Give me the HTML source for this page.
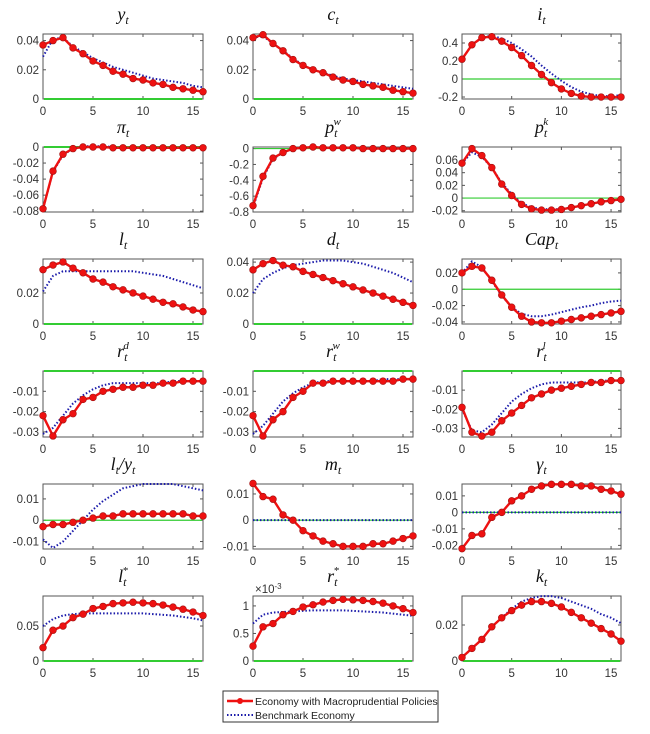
<!DOCTYPE html>
<html><head><meta charset="utf-8"><style>
html,body{margin:0;padding:0;background:#fff;}
svg{display:block;font-family:"Liberation Sans",sans-serif;}
.tick{font-size:11.5px;fill:#333;}
.title{font-family:"Liberation Serif",serif;font-style:italic;font-size:18px;fill:#111;}
</style></head><body>
<svg id="fig" width="650" height="734" viewBox="0 0 650 734" xmlns="http://www.w3.org/2000/svg"></svg>
<script>
const periods=[0,1,2,3,4,5,6,7,8,9,10,11,12,13,14,15,16];
const xTicks=[0,5,10,15];
const yRed=[.037,.040,.042,.035,.031,.026,.023,.019,.017,.014,.013,.011,.010,.008,.007,.006,.005];
const yBlue=[.029,.041,.042,.036,.032,.028,.025,.022,.020,.018,.016,.014,.013,.012,.011,.009,.008];
const cRed=[.042,.044,.038,.033,.027,.023,.020,.018,.015,.013,.012,.010,.009,.008,.006,.005,.004];
const cBlue=[.042,.043,.038,.033,.028,.023,.020,.018,.016,.014,.013,.012,.011,.010,.009,.008,.007];
const iRed=[.22,.38,.46,.47,.42,.35,.26,.15,.05,-.04,-.11,-.16,-.19,-.20,-.20,-.20,-.20];
const iBlue=[.22,.38,.46,.48,.45,.40,.33,.25,.15,.06,-.02,-.09,-.14,-.17,-.19,-.19,-.18];
const piRed=[-.077,-.030,-.009,-.002,0,0,0,-.001,-.001,-.001,-.001,-.001,-.001,-.001,-.001,-.001,-.001];
const piBlue=[-.077,-.031,-.010,-.002,.001,.001,.001,0,-.001,-.001,-.001,-.001,-.001,-.001,-.001,-.001,-.001];
const pwRed=[-.72,-.35,-.12,-.05,0,.01,.02,.01,.01,.01,.01,0,0,0,0,0,0];
const pwBlue=[-.74,-.37,-.13,-.05,0,.01,.02,.01,.01,.01,.01,0,0,0,0,0,0];
const pkRed=[.055,.078,.067,.048,.022,.004,-.010,-.017,-.019,-.019,-.018,-.015,-.012,-.009,-.006,-.004,-.002];
const pkBlue=[.055,.072,.065,.048,.024,.006,-.008,-.015,-.017,-.018,-.017,-.015,-.012,-.009,-.006,-.004,-.002];
const lRed=[.035,.038,.040,.036,.033,.029,.027,.024,.022,.020,.018,.016,.014,.013,.011,.009,.008];
const lBlue=[.021,.031,.034,.034,.034,.034,.034,.034,.034,.034,.033,.032,.031,.029,.027,.025,.023];
const dRed=[.035,.039,.041,.038,.037,.034,.032,.030,.028,.026,.024,.022,.020,.018,.016,.014,.012];
const dBlue=[.020,.029,.033,.036,.038,.039,.040,.041,.041,.041,.040,.039,.037,.035,.033,.030,.027];
const capRed=[.020,.028,.026,.011,-.007,-.022,-.033,-.040,-.041,-.041,-.039,-.037,-.035,-.033,-.031,-.029,-.027];
const capBlue=[.020,.034,.027,.010,-.008,-.022,-.030,-.033,-.033,-.031,-.028,-.025,-.022,-.020,-.017,-.015,-.014];
const rdRed=[-.022,-.032,-.024,-.021,-.014,-.013,-.010,-.009,-.008,-.008,-.007,-.007,-.006,-.006,-.005,-.005,-.005];
const rdBlue=[-.031,-.028,-.022,-.016,-.012,-.009,-.007,-.006,-.006,-.006,-.006,-.006,-.006,-.005,-.005,-.005,-.005];
const rwRed=[-.022,-.032,-.024,-.020,-.013,-.010,-.006,-.006,-.005,-.005,-.005,-.005,-.005,-.005,-.005,-.004,-.004];
const rwBlue=[-.031,-.027,-.021,-.015,-.011,-.008,-.006,-.005,-.005,-.005,-.005,-.005,-.005,-.004,-.004,-.004,-.004];
const rlRed=[-.019,-.032,-.034,-.032,-.026,-.022,-.018,-.014,-.012,-.010,-.009,-.008,-.007,-.006,-.006,-.005,-.005];
const rlBlue=[-.020,-.031,-.032,-.028,-.022,-.016,-.012,-.009,-.007,-.006,-.006,-.006,-.006,-.006,-.005,-.005,-.005];
const lyRed=[-.003,-.002,-.002,-.001,0,.001,.002,.002,.003,.003,.003,.003,.003,.003,.003,.002,.002];
const lyBlue=[-.009,-.013,-.010,-.005,0,.005,.009,.012,.015,.016,.017,.017,.017,.017,.016,.015,.014];
const mRed=[.014,.009,.008,.002,0,-.004,-.006,-.008,-.009,-.010,-.010,-.010,-.009,-.009,-.008,-.007,-.006];
const mBlue=[0,0,0,0,0,0,0,0,0,0,0,0,0,0,0,0,0];
const gRed=[-.022,-.014,-.013,-.003,0,.007,.010,.014,.016,.017,.017,.017,.016,.016,.014,.013,.011];
const gBlue=[0,0,0,0,0,0,0,0,0,0,0,0,0,0,0,0,0];
const lsRed=[.019,.044,.050,.062,.067,.075,.078,.082,.083,.084,.083,.082,.080,.077,.074,.070,.065];
const lsBlue=[.050,.060,.065,.067,.068,.068,.068,.068,.068,.068,.068,.067,.066,.065,.063,.061,.058];
const rsRed=[.27,.62,.68,.84,.90,.98,1.02,1.07,1.10,1.12,1.11,1.10,1.08,1.05,1.00,.95,.88];
const rsBlue=[.68,.84,.88,.89,.90,.91,.92,.92,.92,.92,.91,.90,.89,.88,.86,.84,.82];
const kRed=[.002,.007,.012,.019,.024,.028,.031,.033,.033,.032,.030,.027,.024,.021,.018,.015,.011];
const kBlue=[.002,.007,.012,.019,.024,.029,.033,.035,.036,.036,.035,.033,.031,.029,.026,.024,.021];
const yTicksY=[0,0.02,0.04], yTicksC=[0,0.02,0.04], yTicksI=[-0.2,0,0.2,0.4];
const yTicksPi=[-0.08,-0.06,-0.04,-0.02,0], yTicksPw=[-0.8,-0.6,-0.4,-0.2,0], yTicksPk=[-0.02,0,0.02,0.04,0.06];
const yTicksL=[0,0.02], yTicksD=[0,0.02,0.04], yTicksCap=[-0.04,-0.02,0,0.02];
const yTicksRd=[-0.03,-0.02,-0.01], yTicksRw=[-0.03,-0.02,-0.01], yTicksRl=[-0.03,-0.02,-0.01];
const yTicksLy=[-0.01,0,0.01], yTicksM=[-0.01,0,0.01], yTicksG=[-0.02,-0.01,0,0.01];
const yTicksLs=[0,0.05], yTicksRs=[0,0.5,1], yTicksK=[0,0.02];

const NS="http://www.w3.org/2000/svg";
const svg=document.getElementById('fig');
function mk(tag,attrs,parent){const e=document.createElementNS(NS,tag);for(const k in attrs)e.setAttribute(k,attrs[k]);(parent||svg).appendChild(e);return e;}
const cols=[[43,203],[253,413],[462,621]];
const rows=[[34,99],[147,212],[259,324],[371,437],[484,549],[596,661]];
const panels=[
 {id:'y',t:'y<tspan font-size="12" dy="4">t</tspan>',r:yRed,b:yBlue,lo:0,hi:.0445,tk:yTicksY},
 {id:'c',t:'c<tspan font-size="12" dy="4">t</tspan>',r:cRed,b:cBlue,lo:0,hi:.0445,tk:yTicksC},
 {id:'i',t:'i<tspan font-size="12" dy="4">t</tspan>',r:iRed,b:iBlue,lo:-.222,hi:.5,tk:yTicksI},
 {id:'pi',t:'π<tspan font-size="12" dy="4">t</tspan>',r:piRed,b:piBlue,lo:-.081,hi:0,tk:yTicksPi},
 {id:'pw',t:'p<tspan font-size="12" dy="4">t</tspan><tspan font-size="11" dx="-4" dy="-12">w</tspan>',r:pwRed,b:pwBlue,lo:-.8,hi:.02,tk:yTicksPw},
 {id:'pk',t:'p<tspan font-size="12" dy="4">t</tspan><tspan font-size="11" dx="-4" dy="-12">k</tspan>',r:pkRed,b:pkBlue,lo:-.022,hi:.0805,tk:yTicksPk},
 {id:'l',t:'l<tspan font-size="12" dy="4">t</tspan>',r:lRed,b:lBlue,lo:0,hi:.0419,tk:yTicksL},
 {id:'d',t:'d<tspan font-size="12" dy="4">t</tspan>',r:dRed,b:dBlue,lo:0,hi:.042,tk:yTicksD},
 {id:'cap',t:'Cap<tspan font-size="12" dy="4">t</tspan>',r:capRed,b:capBlue,lo:-.0425,hi:.037,tk:yTicksCap},
 {id:'rd',t:'r<tspan font-size="12" dy="4">t</tspan><tspan font-size="11" dx="-4" dy="-12">d</tspan>',r:rdRed,b:rdBlue,lo:-.0325,hi:0,tk:yTicksRd},
 {id:'rw',t:'r<tspan font-size="12" dy="4">t</tspan><tspan font-size="11" dx="-4" dy="-12">w</tspan>',r:rwRed,b:rwBlue,lo:-.0325,hi:0,tk:yTicksRw},
 {id:'rl',t:'r<tspan font-size="12" dy="4">t</tspan><tspan font-size="11" dx="-4" dy="-12">l</tspan>',r:rlRed,b:rlBlue,lo:-.0345,hi:0,tk:yTicksRl},
 {id:'ly',t:'l<tspan font-size="12" dy="4">t</tspan><tspan dy="-4">/y</tspan><tspan font-size="12" dy="4">t</tspan>',r:lyRed,b:lyBlue,lo:-.0135,hi:.017,tk:yTicksLy},
 {id:'m',t:'m<tspan font-size="12" dy="4">t</tspan>',r:mRed,b:mBlue,lo:-.011,hi:.0138,tk:yTicksM},
 {id:'gamma',t:'γ<tspan font-size="12" dy="4">t</tspan>',r:gRed,b:gBlue,lo:-.0222,hi:.0172,tk:yTicksG},
 {id:'lstar',t:'l<tspan font-size="12" dy="4">t</tspan><tspan font-size="11" dx="-4" dy="-12">*</tspan>',r:lsRed,b:lsBlue,lo:0,hi:.0929,tk:yTicksLs},
 {id:'rstar',t:'r<tspan font-size="12" dy="4">t</tspan><tspan font-size="11" dx="-4" dy="-12">*</tspan>',r:rsRed,b:rsBlue,lo:0,hi:1.18,tk:yTicksRs,exp:true},
 {id:'k',t:'k<tspan font-size="12" dy="4">t</tspan>',r:kRed,b:kBlue,lo:0,hi:.0361,tk:yTicksK}
];
function fmt(v){if(v===0)return '0';let s=String(+v.toFixed(3));return s.replace(/^(-?)0\./,'$10.');}
panels.forEach((p,idx)=>{
 const [x0,x1]=cols[idx%3],[y0,y1]=rows[Math.floor(idx/3)];
 const g=mk('g',{});
 
 
 const X=v=>x0+(v-periods[0])/(periods[periods.length-1]-periods[0])*(x1-x0);
 const Y=v=>y1-(v-p.lo)/(p.hi-p.lo)*(y1-y0);
 const box=mk('rect',{x:x0,y:y0,width:x1-x0,height:y1-y0,fill:'#fff',stroke:'#555','stroke-width':1},g);
 
 
 xTicks.forEach(t=>{
  mk('line',{x1:X(t),x2:X(t),y1:y1,y2:y1-3,stroke:'#555'},g);
  mk('line',{x1:X(t),x2:X(t),y1:y0,y2:y0+3,stroke:'#555'},g);
  const tx=mk('text',{x:X(t),y:y1+16,'text-anchor':'middle',class:'tick'},g);tx.textContent=t;
  
  
 });
 p.tk.forEach(t=>{
  mk('line',{x1:x0,x2:x0+3,y1:Y(t),y2:Y(t),stroke:'#555'},g);
  mk('line',{x1:x1,x2:x1-3,y1:Y(t),y2:Y(t),stroke:'#555'},g);
  const tx=mk('text',{x:x0-4,y:Y(t)+4,'text-anchor':'end',class:'tick'},g);tx.textContent=fmt(t);
  
  
 });
 if(p.exp){const e=mk('text',{x:x0+2,y:y0-3,class:'tick','font-size':'10'},g);e.innerHTML='×10<tspan dy="-4" font-size="8">-3</tspan>';
  
  }
 const zl=mk('line',{x1:x0+1,x2:x1-1,y1:Y(0),y2:Y(0),stroke:'#33cc33','stroke-width':Y(0)<=y0+1||Y(0)>=y1-1?2:1.2},g);
 
 
 const bl=mk('polyline',{points:periods.map((t,i)=>X(t)+','+Y(p.b[i])).join(' '),fill:'none',stroke:'#1a1aaa','stroke-width':2,'stroke-dasharray':'1.5 2'},g);
 
 
 const rl=mk('polyline',{points:periods.map((t,i)=>X(t)+','+Y(p.r[i])).join(' '),fill:'none',stroke:'#ee1111','stroke-width':2.4},g);
 
 
 periods.forEach((t,i)=>{
  const c=mk('circle',{cx:X(t),cy:Y(p.r[i]),r:3.4,fill:'#ee1111',stroke:'#a01010','stroke-width':.6},g);
  
  
 });
 const ti=mk('text',{x:(x0+x1)/2,y:y0-14,'text-anchor':'middle',class:'title'},g);ti.innerHTML=p.t;
 
 
});
const lg=mk('g',{});


mk('rect',{x:223,y:691,width:215,height:31,fill:'#fff',stroke:'#333','stroke-width':1},lg);
mk('line',{x1:227,x2:253,y1:701,y2:701,stroke:'#ee1111','stroke-width':2.4},lg);
mk('circle',{cx:240,cy:701,r:3,fill:'#ee1111'},lg);
const t1=mk('text',{x:255,y:705,'font-size':'10.5',fill:'#222'},lg);t1.textContent='Economy with Macroprudential Policies';


mk('line',{x1:227,x2:253,y1:715,y2:715,stroke:'#1a1aaa','stroke-width':2,'stroke-dasharray':'1.5 2'},lg);
const t2=mk('text',{x:255,y:719,'font-size':'10.5',fill:'#222'},lg);t2.textContent='Benchmark Economy';


</script>
</body></html>
